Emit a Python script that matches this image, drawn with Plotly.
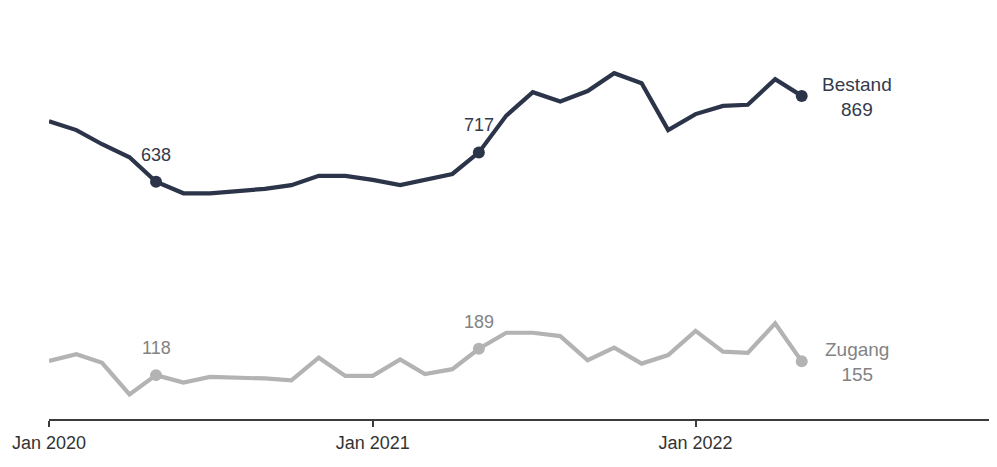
import plotly.graph_objects as go
import pandas as pd

months = pd.date_range("2020-01-01", "2022-05-01", freq="MS")

bestand = [801, 777, 739, 704, 638, 607, 607, 614, 619, 629, 654, 654,
           643, 629, 643, 659, 717, 816, 879, 854, 882, 930, 903, 777,
           820, 842, 845, 914, 869]
zugang = [156, 174, 151, 66, 118, 98, 113, 112, 109, 104, 165, 116,
          116, 160, 121, 134, 189, 232, 232, 223, 158, 192, 149, 172,
          237, 181, 178, 257, 155]

highlight_idx = [4, 16, 28]
series_names = ["Bestand", "Zugang"]
tick_vals = ["2020-01-01", "2021-01-01", "2022-01-01"]
tick_text = ["Jan 2020", "Jan 2021", "Jan 2022"]

c_best = "#2b3449"
c_best_txt = "#333a4c"
c_zug = "#b3b3b3"
c_zug_txt = "#838383"
FONT = "Liberation Sans, Arial, sans-serif"

fig = go.Figure()
for vals, col in [(bestand, c_best), (zugang, c_zug)]:
    fig.add_trace(go.Scatter(x=months, y=vals, mode="lines",
                             line=dict(color=col, width=4.2), hoverinfo="skip",
                             showlegend=False))
    fig.add_trace(go.Scatter(x=[months[i] for i in highlight_idx],
                             y=[vals[i] for i in highlight_idx], mode="markers",
                             marker=dict(color=col, size=12), showlegend=False))

annots = []
for name, vals, tcol in [("Bestand", bestand, c_best_txt), ("Zugang", zugang, c_zug_txt)]:
    for i in highlight_idx[:-1]:
        annots.append(dict(x=months[i], y=vals[i], text=str(vals[i]), showarrow=False,
                           yshift=27, font=dict(color=tcol, size=18, family=FONT)))
    last = highlight_idx[-1]
    annots.append(dict(x=months[last], y=vals[last], text=f"{name}<br>{vals[last]}",
                       showarrow=False, xshift=55, yshift=-1, align="center",
                       font=dict(color=tcol, size=19, family=FONT)))

fig.update_layout(
    width=989, height=459,
    margin=dict(l=41, r=6, t=2, b=48),
    paper_bgcolor="white", plot_bgcolor="white",
    annotations=annots,
    font=dict(family=FONT, size=18, color="#333333"),
    xaxis=dict(range=["2020-01-01", "2022-12-01"], tickvals=tick_vals, ticktext=tick_text,
               automargin=False,
               showgrid=False, zeroline=False, showline=True, linecolor="#3c3c3c",
               linewidth=2, ticks="outside", ticklen=6, tickwidth=2, tickcolor="#3c3c3c",
               tickfont=dict(size=18, color="#333333", family=FONT)),
    yaxis=dict(range=[0, 1100], visible=False, showgrid=False, zeroline=False,
               automargin=False),
)

fig.write_html("out.html")
